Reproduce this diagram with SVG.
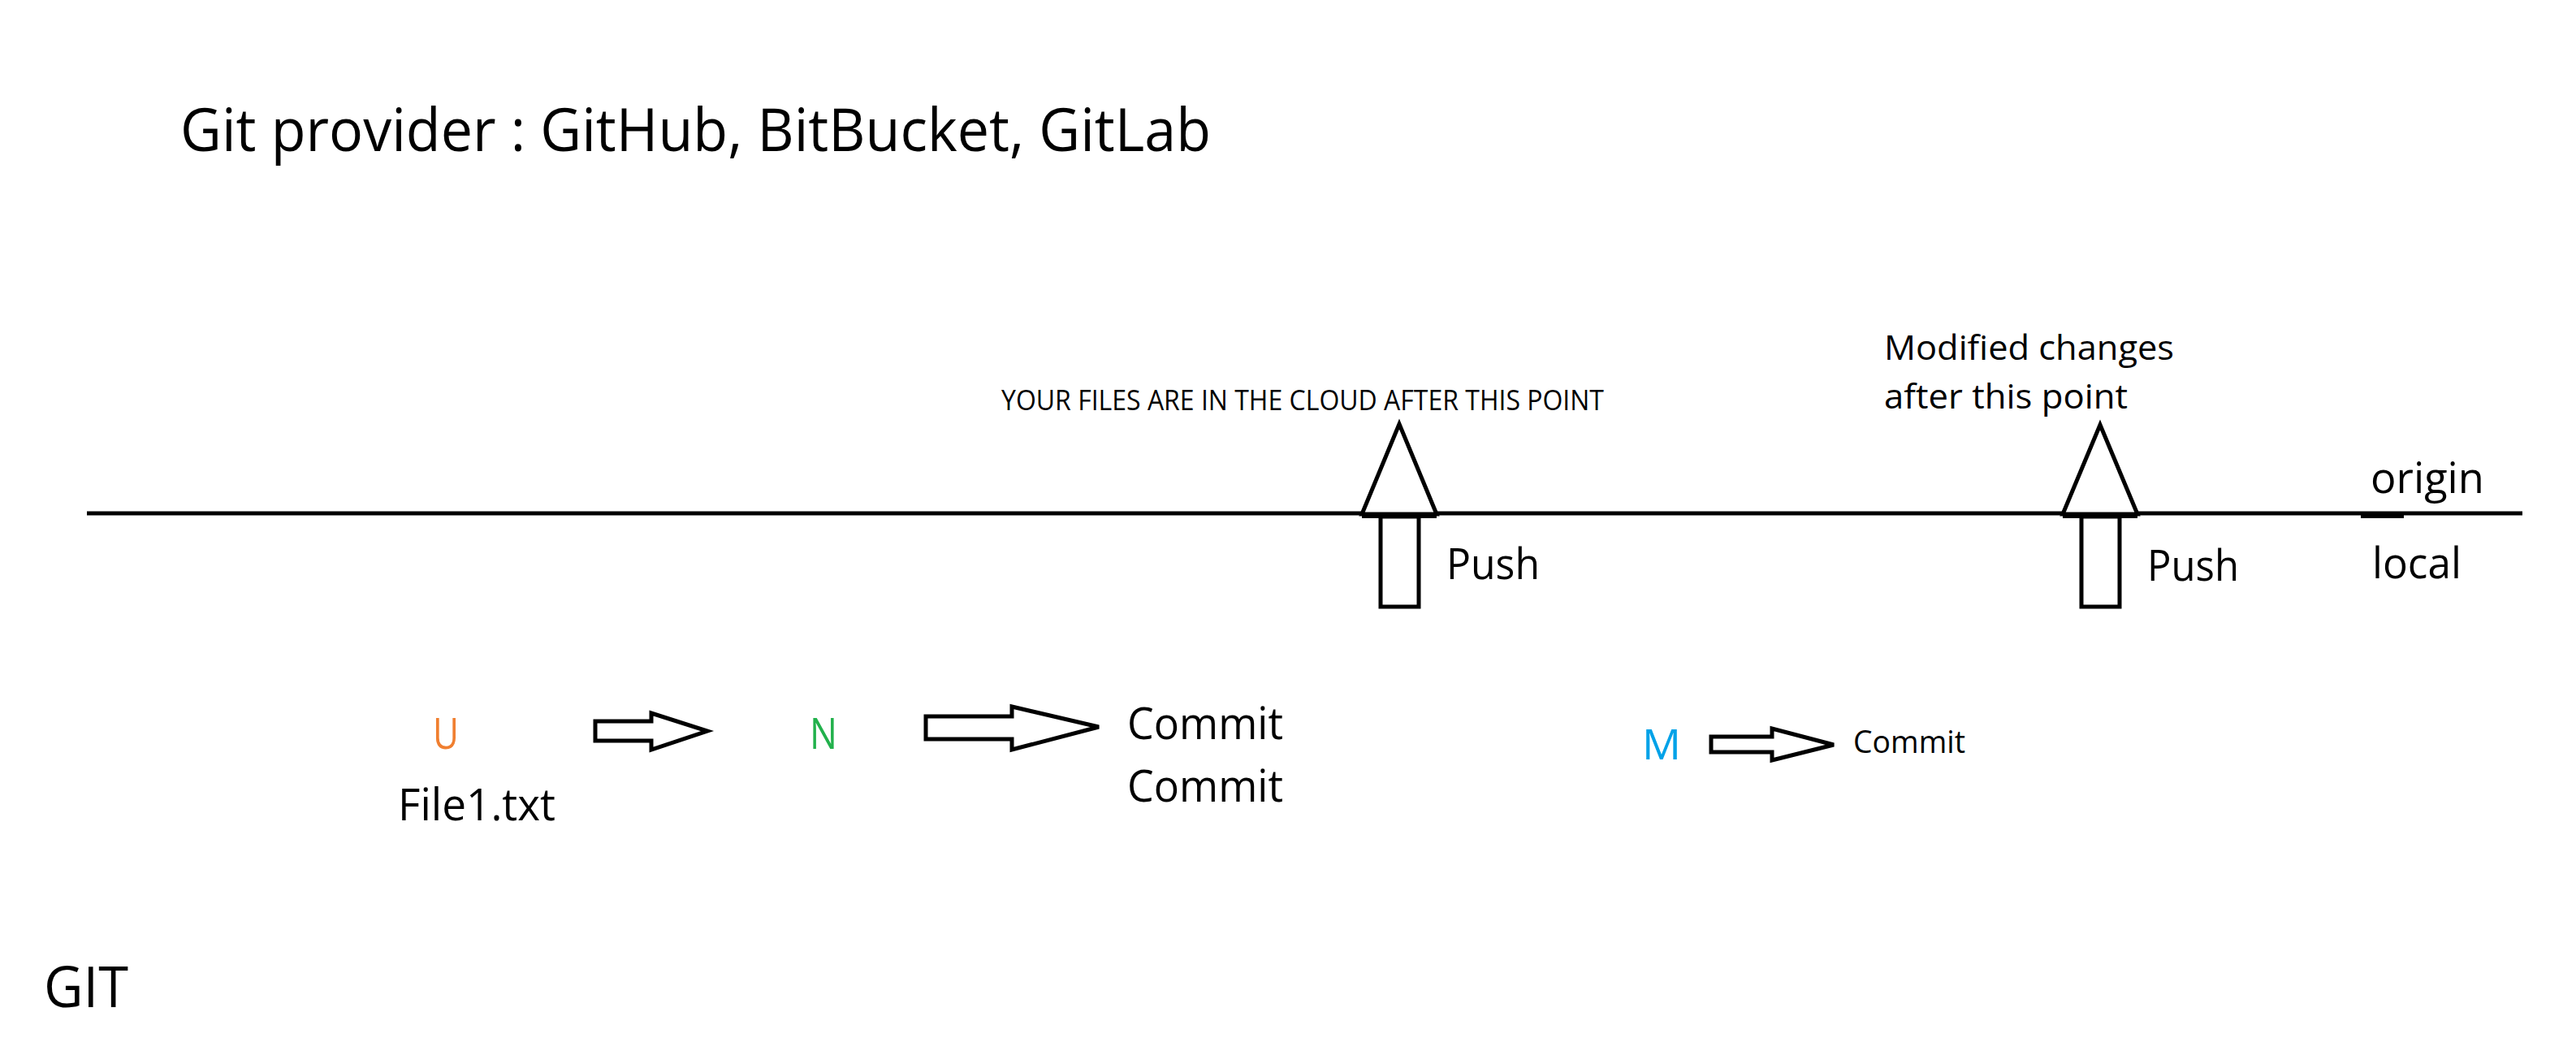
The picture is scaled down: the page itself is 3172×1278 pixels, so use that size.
<svg xmlns="http://www.w3.org/2000/svg" width="3172" height="1278" viewBox="0 0 3172 1278">
<style>
text{font-family:"Open Sans","Noto Sans","Liberation Sans",sans-serif;fill:#000}
.shape{fill:#fff;stroke:#000;stroke-width:5;stroke-linejoin:miter}
.line{stroke:#000;stroke-width:5;fill:none}
.bar{stroke:#000;stroke-width:8;fill:none}
</style>
<rect width="3172" height="1278" fill="#fff"/>
<g id="title"><text x="222" y="186" font-size="74" textLength="1269" lengthAdjust="spacingAndGlyphs">Git provider : GitHub, BitBucket, GitLab</text></g>
<g id="timeline">
<line class="line" x1="107" y1="632" x2="3106" y2="632"/>
<line class="bar" x1="1677" y1="634" x2="1769" y2="634"/>
<line class="bar" x1="2540" y1="634" x2="2632" y2="634"/>
<line class="bar" x1="2907" y1="634" x2="2960" y2="634"/>
</g>
<g id="cloud-label"><text x="1233" y="505" font-size="34" textLength="742" lengthAdjust="spacingAndGlyphs">YOUR FILES ARE IN THE CLOUD AFTER THIS POINT</text></g>
<g id="modified-label">
<text x="2320" y="443" font-size="42" textLength="357" lengthAdjust="spacingAndGlyphs">Modified changes</text>
<text x="2320" y="503" font-size="42" textLength="300" lengthAdjust="spacingAndGlyphs">after this point</text>
</g>
<g id="origin"><text x="2919" y="607" font-size="53" textLength="140" lengthAdjust="spacingAndGlyphs">origin</text></g>
<g id="local"><text x="2921" y="712" font-size="53" textLength="110" lengthAdjust="spacingAndGlyphs">local</text></g>
<g id="u-node"><text x="533" y="922" font-size="53" textLength="32" lengthAdjust="spacingAndGlyphs" style="fill:#F07F30">U</text></g>
<g id="file1"><text x="490" y="1010" font-size="54" textLength="194" lengthAdjust="spacingAndGlyphs">File1.txt</text></g>
<g id="n-node"><text x="997" y="922" font-size="53" textLength="34" lengthAdjust="spacingAndGlyphs" style="fill:#22B14C">N</text></g>
<g id="commit-1"><text x="1388" y="910" font-size="54" textLength="192" lengthAdjust="spacingAndGlyphs">Commit</text></g>
<g id="commit-2"><text x="1388" y="987" font-size="54" textLength="192" lengthAdjust="spacingAndGlyphs">Commit</text></g>
<g id="m-node"><text x="2022" y="935" font-size="51" textLength="48" lengthAdjust="spacingAndGlyphs" style="fill:#00A2E8">M</text></g>
<g id="commit-3"><text x="2282" y="927" font-size="39" textLength="138" lengthAdjust="spacingAndGlyphs">Commit</text></g>
<g id="push-1"><text x="1781" y="713" font-size="53" textLength="115" lengthAdjust="spacingAndGlyphs">Push</text></g>
<g id="push-2"><text x="2644" y="715" font-size="53" textLength="113" lengthAdjust="spacingAndGlyphs">Push</text></g>
<g id="git"><text x="54" y="1240" font-size="70" textLength="104" lengthAdjust="spacingAndGlyphs">GIT</text></g>
<g id="connectors">
<polygon class="shape" points="1677,633 1723,522 1769,633"/>
<rect class="shape" x="1700" y="636" width="47" height="111"/>
<polygon class="shape" points="2540,633 2586,523 2632,633"/>
<rect class="shape" x="2563" y="636" width="47" height="111"/>
<polygon class="shape" points="733,888 802,888 802,878 871,900 802,923 802,912 733,912"/>
<polygon class="shape" points="1140,882 1246,882 1246,870 1353,895 1246,923 1246,910 1140,910"/>
<polygon class="shape" points="2107,907 2182,907 2182,897 2258,917 2182,936 2182,926 2107,926"/>
</g>
</svg>
